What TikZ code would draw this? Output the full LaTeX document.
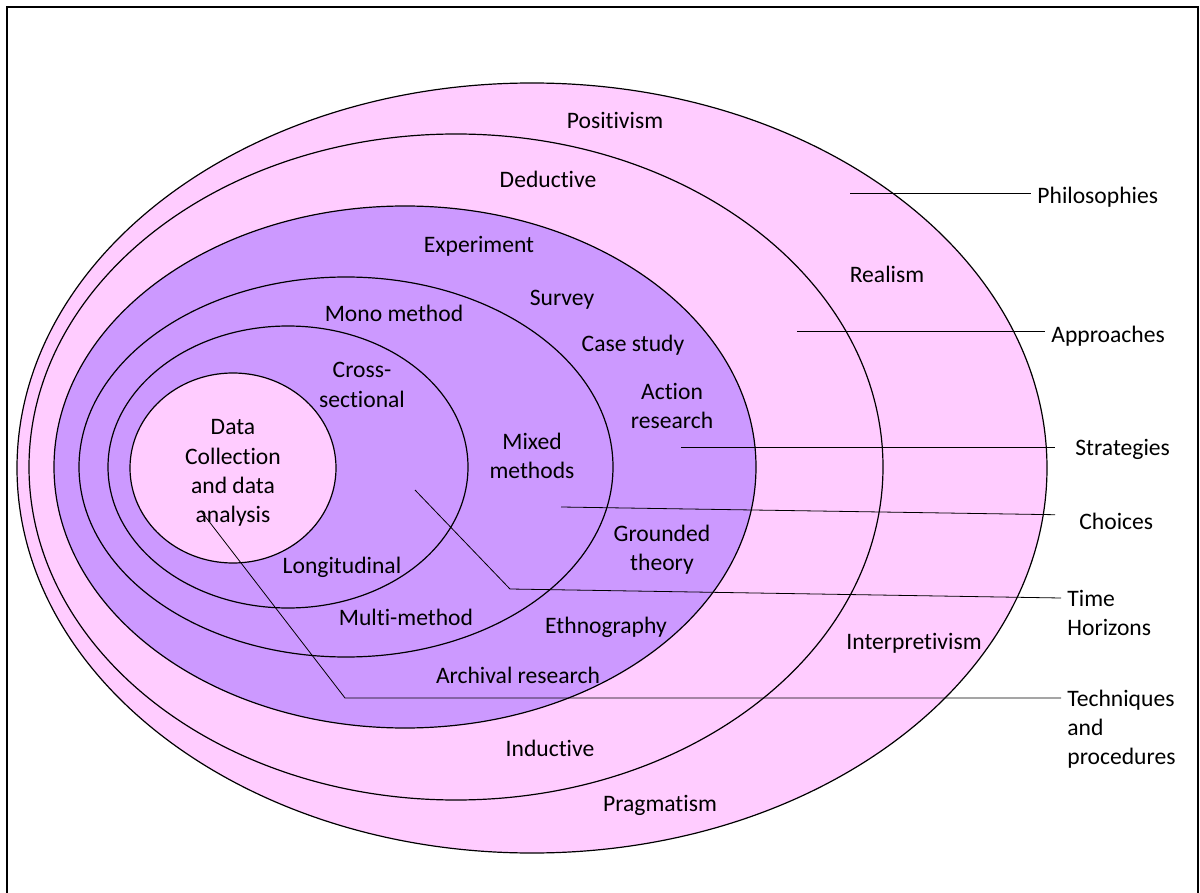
\documentclass[tikz,border=0pt]{standalone}
\usepackage{fontspec}
\setmainfont{Carlito}[Ligatures={NoCommon}]
\usepackage[rgb]{xcolor}
\usepackage{tikz}
\definecolor{onionpink}{HTML}{FFCCFF}
\definecolor{onionlilac}{HTML}{CC99FF}

\begin{document}
\begin{tikzpicture}[x=0.5pt, y=-0.5pt,
  every node/.style={font=\fontsize{11.8}{14.6}\selectfont, align=center, inner sep=3pt},
  layertag/.style={anchor=west, align=left}]

\useasboundingbox (0,0) rectangle (1200,893);

% frame
\draw[line width=0.9pt] (7,910) -- (7,7) -- (1198,7) -- (1198,910);


% Philosophies layer
\filldraw[fill=onionpink, draw=black, line width=0.6pt] (532,468) ellipse [x radius=515, y radius=385];

% Approaches layer
\filldraw[fill=onionpink, draw=black, line width=0.6pt] (456,467) ellipse [x radius=427, y radius=333];

% Strategies layer
\filldraw[fill=onionlilac, draw=black, line width=0.6pt] (405,467) ellipse [x radius=351, y radius=261];

% Choices layer
\filldraw[fill=onionlilac, draw=black, line width=0.6pt] (346,467) ellipse [x radius=267, y radius=190];

% Time horizons layer
\filldraw[fill=onionlilac, draw=black, line width=0.6pt] (288,467) ellipse [x radius=180, y radius=141];

% Core
\filldraw[fill=onionpink, draw=black, line width=0.6pt] (233,468) ellipse [x radius=103, y radius=95];


% layer texts
\path
(615,120) node (positivism) {Positivism}
(548,179) node (deductive) {Deductive}
(887,274) node (realism) {Realism}
(479,246) node (experiment) {Experiment}
(562,300) node (survey) {Survey}
(394,313) node (mono) {Mono method}
(633,345) node (casestudy) {Case study}
(362,385) node (crosssec) {Cross-\\sectional}
(672,406) node (action) {Action\\research}
(532,456) node (mixed) {Mixed\\methods}
(233,473) node (datacoll) {Data\\Collection\\and data\\analysis}
(662,550) node (grounded) {Grounded\\theory}
(342,567) node (longitud) {Longitudinal}
(406,617) node (multi) {Multi-method}
(606,627) node (ethno) {Ethnography}
(914,643) node (interpret) {Interpretivism}
(518,675) node (archival) {Archival research}
(550,748) node (inductive) {Inductive}
(660,805) node (pragmatism) {Pragmatism};


% layer names
\path
(1031,197) node[layertag] (philo) {Philosophies}
(1045,336) node[layertag] (appro) {Approaches}
(1069,449) node[layertag] (strat) {Strategies}
(1073,521) node[layertag] (choice) {Choices}
(1061,613) node[layertag] (timeh) {Time\\Horizons}
(1061,729) node[layertag] (techn) {Techniques\\and\\procedures};

\coordinate (philo-in) at (850,193);
\coordinate (appro-in) at (797,331);
\coordinate (strat-in) at (681,447);
\coordinate (choice-in) at (561,507);
\coordinate (timeh-in) at (415,490);
\coordinate (timeh-bend) at (510,589);
\coordinate (techn-in) at (201,511);
\coordinate (techn-bend) at (345,698);


% leader lines
\draw (philo-in) -- (philo-in -| philo.west);
\draw (appro-in) -- (appro-in -| appro.west);
\draw[shorten >=7pt] (strat-in) -- (strat-in -| strat.west);
\draw[shorten >=9pt] (choice-in) -- (choice.west |- 0,515);
\draw (timeh-in) -- (timeh-bend) -- (timeh.west |- 0,598);
\draw (techn-in) -- (techn-bend) -- (techn-bend -| techn.west);

\end{tikzpicture}
\end{document}
